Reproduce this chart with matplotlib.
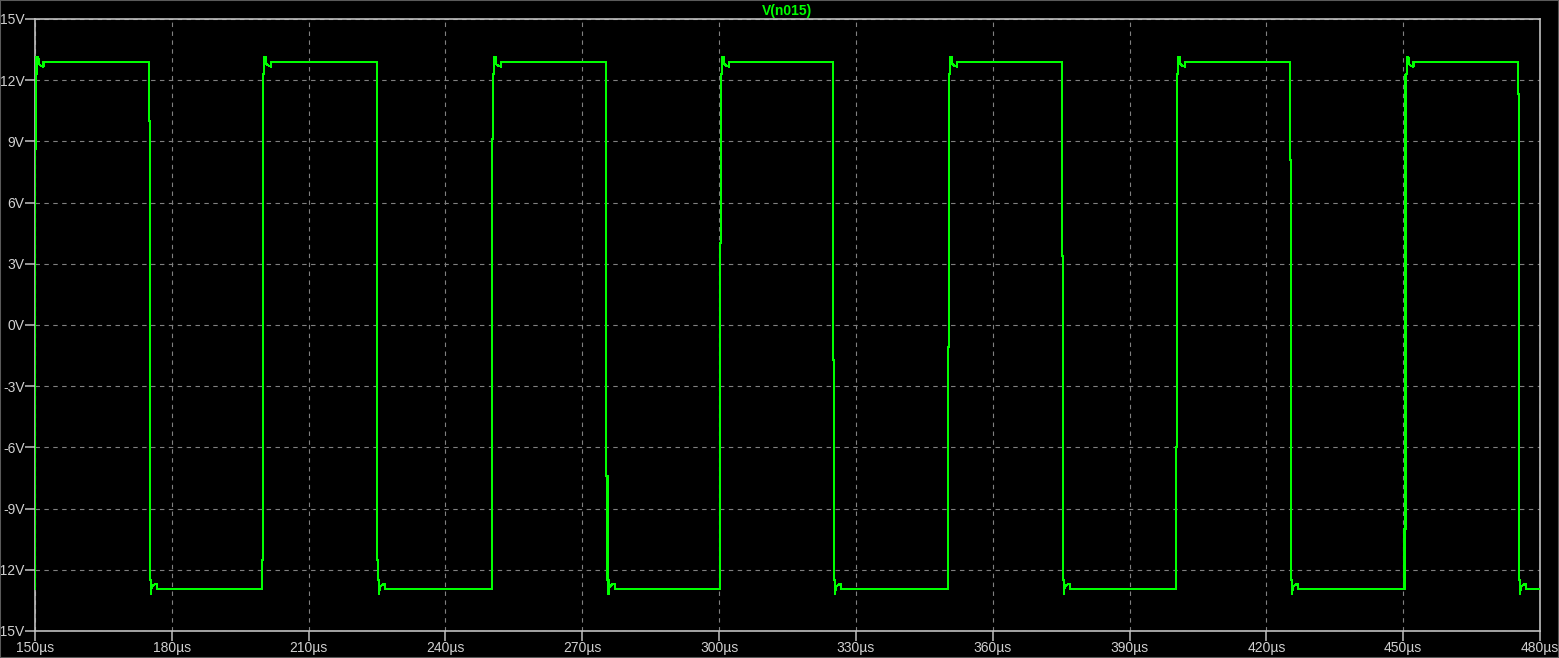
"""
LTspice-style transient view of V(n015): a +/-13 V square wave, 150-480 us.
Edge times, the one-pixel kink on each edge and the ringing were read off the
screenshot.
"""
import matplotlib
matplotlib.use("Agg")
import matplotlib.pyplot as plt
from matplotlib.patches import Rectangle

GREEN = "#00ff00"
FRAME = "#c0c0c0"
GRID = "#808080"

# plateau levels (V)
HIGH, LOW = 12.89, -12.96

# edge times (us) and the level where each edge jumps one pixel column
RISE_T = [149.9, 199.85, 250.2, 300.2, 350.2, 400.2, 450.3]
RISE_KINK = [-8.2, -11.5, 9.1, 4.0, -1.1, -6.0, -10.0]
FALL_T = [174.93, 225.0, 275.3, 325.0, 375.1, 425.2, 475.2]
FALL_KINK = [10.0, -11.5, -7.4, -1.7, 3.4, 8.1, 11.3]

# what follows each edge: offset from the edge (us) and level (V)
RISE_DT = [0.22, 0.44, 0.44, 0.85, 0.88, 1.3, 1.9, 1.95, 1.97]
RISE_V = [12.3, 12.3, 13.15, 13.15, 12.8, 12.72, 12.66, 12.66, HIGH]
FALL_DT = [0.22, 0.44, 0.44, 0.5, 0.72, 1.15, 1.4, 1.8, 1.82]
FALL_V = [-12.5, -12.5, -13.2, -13.05, -12.8, -12.75, -12.68, -12.68, LOW]

T_START, V_START = 150.0, -12.96
T_END = 480.0

X_TICKS = [150, 180, 210, 240, 270, 300, 330, 360, 390, 420, 450, 480]
X_LABELS = ["150µs", "180µs", "210µs", "240µs", "270µs", "300µs",
            "330µs", "360µs", "390µs", "420µs", "450µs", "480µs"]
Y_TICKS = [-15, -12, -9, -6, -3, 0, 3, 6, 9, 12, 15]
Y_LABELS = ["-15V", "-12V", "-9V", "-6V", "-3V", "0V",
            "3V", "6V", "9V", "12V", "15V"]


def _trace():
    edges = [(t, LOW, k, RISE_DT, RISE_V) for t, k in zip(RISE_T, RISE_KINK)]
    edges += [(t, HIGH, k, FALL_DT, FALL_V) for t, k in zip(FALL_T, FALL_KINK)]
    edges.sort(key=lambda e: e[0])
    # the sweep opens mid-edge: short low stub on the left axis
    ts, vs = [T_START, T_START], [V_START, RISE_KINK[0]]
    for t0, start, kink, dts, lv in edges:
        if t0 < T_START:
            ts += [t0 + d for d in dts]
            vs += list(lv)
            continue
        ts += [t0, t0, t0 + dts[0]] + [t0 + d for d in dts]
        vs += [start, kink, kink] + list(lv)
    ts.append(T_END)
    vs.append(vs[-1])
    return ts, vs


plt.rcParams.update({"font.family": ["Liberation Sans", "DejaVu Sans"]})
fig = plt.figure(figsize=(15.59, 6.58), dpi=100, facecolor="black")
ax = fig.add_axes([35 / 1559, 27 / 658, 1505 / 1559, 612 / 658])
ax.set_facecolor("black")

t, v = _trace()
ax.plot(t, v, color=GREEN, lw=0.8, antialiased=False, zorder=3)

ax.set_xlim(X_TICKS[0], X_TICKS[-1])
ax.set_ylim(Y_TICKS[0], Y_TICKS[-1])
ax.set_xticks(X_TICKS, X_LABELS)
ax.set_yticks(Y_TICKS, Y_LABELS)
ax.grid(True, color=GRID, lw=0.8, ls=(0, (4, 4)))
for s in ax.spines.values():
    s.set_color(FRAME)
    s.set_linewidth(1.2)
ax.tick_params(colors=FRAME, labelcolor="#d0d0d0", length=7, width=1.1,
               pad=0.5, labelsize=10)
ax.set_title("V(n015)", color=GREEN, fontsize=10, fontweight="bold", pad=3)

# thin window edge of the screenshot
fig.patches.append(Rectangle((0, 0), 1, 1, transform=fig.transFigure,
                             fill=False, edgecolor="#5a5a5a", lw=1.5))

fig.savefig("out.png", dpi=100, facecolor="black")
